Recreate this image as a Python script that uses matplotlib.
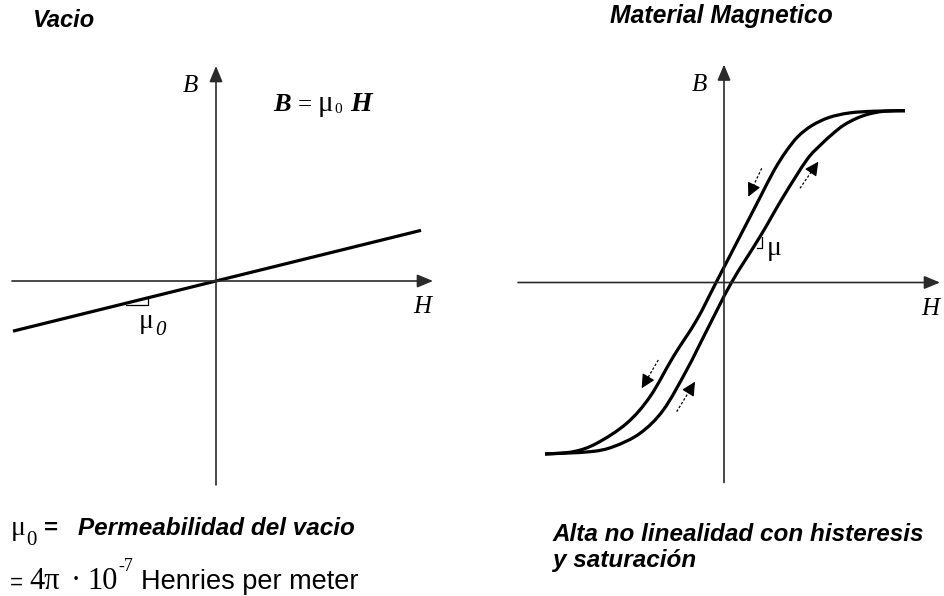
import numpy as np
import matplotlib
matplotlib.use("Agg")
import matplotlib.pyplot as plt
from matplotlib.path import Path
from matplotlib.patches import PathPatch

# ---------------------------------------------------------------
# Data (H, B in drawing units, origin at the axis crossing)
# ---------------------------------------------------------------
# Vacuum: straight line B = mu0 * H
mu0_slope = 0.247
vac_H = [-203, 205]
vac_B = [mu0_slope * h for h in vac_H]

# Magnetic material: hysteresis loop, descending branch (top-right -> bottom-left)
desc_H = [181, 150, 125, 105, 88, 74, 62, 50, 36, 22.7, -7.9, -27.3, -50.7,
          -74, -97.3, -127.3, -150.7, -179]
desc_B = [171.8, 171.3, 169.5, 165, 157, 146, 131, 112, 85, 59.2, 0, -37.5, -74.2,
          -114.2, -140.8, -160.8, -169.2, -171.5]
# ascending branch (bottom-left -> top-right)
asc_H = [-179, -134, -110.7, -84, -60.7, -37.3, -17, 7.5, 36, 59.3, 82.7, 96,
         109.3, 120, 132.7, 145, 160, 181]
asc_B = [-171.5, -169.2, -164.2, -150.8, -127.5, -87.5, -47.5, 0, 45.8, 85.8, 122.5, 137,
         149.2, 157.5, 164.2, 168.5, 171.2, 171.8]

# axis extents (H_min, H_max, B_min, B_max)
left_axis = (-204, 217, -204, 215)
right_axis = (-206, 216, -200, 218)

SANS = "Liberation Sans"
SERIF = "Liberation Serif"
AXIS_COLOR = "#2a2a2a"

W, HP = 945, 596
fig = plt.figure(figsize=(W / 100, HP / 100), dpi=100)
fig.patch.set_facecolor("white")


def fx(x, y):
    return x / W, 1 - y / HP


def ftext(x, y, s, **kw):
    fig.text(*fx(x, y), s, ha="left", va="baseline", **kw)


def smooth_path(xs, ys):
    pts = np.column_stack([xs, ys]).astype(float)
    n = len(pts)
    verts = [pts[0]]
    codes = [Path.MOVETO]
    for i in range(n - 1):
        p0 = pts[max(i - 1, 0)]
        p1 = pts[i]
        p2 = pts[i + 1]
        p3 = pts[min(i + 2, n - 1)]
        verts += [p1 + (p2 - p0) / 6, p2 - (p3 - p1) / 6, p2]
        codes += [Path.CURVE4] * 3
    return Path(verts, codes)


def draw_axes_arrows(ax, ext):
    hmin, hmax, bmin, bmax = ext
    style = "-|>,head_length=0.6,head_width=0.25"
    kw = dict(arrowstyle=style, color=AXIS_COLOR, lw=1.2,
              mutation_scale=16, shrinkA=0, shrinkB=0)
    ax.annotate("", xy=(hmax, 0), xytext=(hmin, 0), arrowprops=kw)
    ax.annotate("", xy=(0, bmax), xytext=(0, bmin), arrowprops=kw)


def small_arrow(ax, start, tip):
    start = np.array(start, float)
    tip = np.array(tip, float)
    mid = tip - 0.32 * (tip - start)
    ax.plot([start[0], mid[0]], [start[1], mid[1]], color="black",
            lw=0.9, ls=(0, (2, 1.5)))
    ax.annotate("", xy=tip, xytext=mid,
                arrowprops=dict(arrowstyle="-|>,head_length=0.6,head_width=0.3",
                                color="black", lw=0.8, mutation_scale=14,
                                shrinkA=0, shrinkB=0))


# ---------------------------------------------------------------
# Left panel: vacuum
# ---------------------------------------------------------------
axL = fig.add_axes([0, 0, 1, 1])
axL.set_xlim(-216, W - 216)
axL.set_ylim(281 - HP, 281)
axL.axis("off")
axL.patch.set_alpha(0)

draw_axes_arrows(axL, left_axis)
axL.plot(vac_H, vac_B, color="black", lw=2.3, solid_capstyle="butt")
# slope marker
axL.plot([-90, -68, -68], [-23.5, -23.5, mu0_slope * -68], color="black", lw=0.9)

# ---------------------------------------------------------------
# Right panel: magnetic material
# ---------------------------------------------------------------
axR = fig.add_axes([0, 0, 1, 1])
axR.set_xlim(-724, W - 724)
axR.set_ylim(282.5 - HP, 282.5)
axR.axis("off")
axR.patch.set_alpha(0)

draw_axes_arrows(axR, right_axis)
for hs, bs in ((desc_H, desc_B), (asc_H, asc_B)):
    axR.add_patch(PathPatch(smooth_path(hs, bs), facecolor="none",
                            edgecolor="black", lw=2.3, capstyle="butt"))
# slope marker
axR.plot([33, 38, 38], [34.5, 34.5, 45.5], color="black", lw=0.9)

small_arrow(axR, (37.7, 114.2), (24.3, 85.8))
small_arrow(axR, (76, 94.2), (94.3, 120.8))
small_arrow(axR, (-65.7, -77.5), (-82.3, -105.8))
small_arrow(axR, (-47.3, -129.2), (-29, -99.2))

# ---------------------------------------------------------------
# Text
# ---------------------------------------------------------------
title_kw = dict(family=SANS, weight="bold", style="italic")
ftext(32, 27, "Vacio", size=17, **title_kw)
ftext(610, 23, "Material Magnetico", size=17.8, **title_kw)

lab_kw = dict(family=SERIF, style="italic", size=18)
ftext(183, 92, "B", **lab_kw)
ftext(413, 313, "H", **lab_kw)
ftext(692, 91, "B", **lab_kw)
ftext(921, 315, "H", **lab_kw)

# B = mu0 H
ftext(273, 111, "B", family=SERIF, weight="bold", style="italic", size=19)
ftext(298, 111, "=", family=SERIF, size=18)
ftext(318, 111, "μ", family=SERIF, size=21)
ftext(334, 113, "0", family=SERIF, size=11)
ftext(350, 111, "H", family=SERIF, weight="bold", style="italic", size=20)

# slope labels
ftext(139, 328, "μ", family=SERIF, size=20)
ftext(155, 335, "0", family=SERIF, style="italic", size=15)
ftext(767, 255, "μ", family=SERIF, size=20)

# bottom left notes
ftext(11, 535, "μ", family=SERIF, size=20)
ftext(26, 545, "0", family=SERIF, size=15)
ftext(44, 535, "=", family=SANS, weight="bold", size=17.5)
ftext(78, 535, "Permeabilidad del vacio", family=SANS, weight="bold",
      style="italic", size=17.5)

ftext(10, 589, "=", family=SANS, size=16)
ftext(29, 589, "4π", family=SERIF, size=22)
ftext(71, 589, "·", family=SERIF, size=22)
ftext(87, 589, "10", family=SERIF, size=22)
ftext(118, 571, "-7", family=SERIF, size=13)
ftext(141, 589, "Henries per meter", family=SANS, size=19.5)

# bottom right notes
note_kw = dict(family=SANS, weight="bold", style="italic", size=17.5)
ftext(553, 541, "Alta no linealidad con histeresis", **note_kw)
ftext(553, 567, "y saturación", **note_kw)

fig.savefig("out.png", dpi=100, facecolor="white")
